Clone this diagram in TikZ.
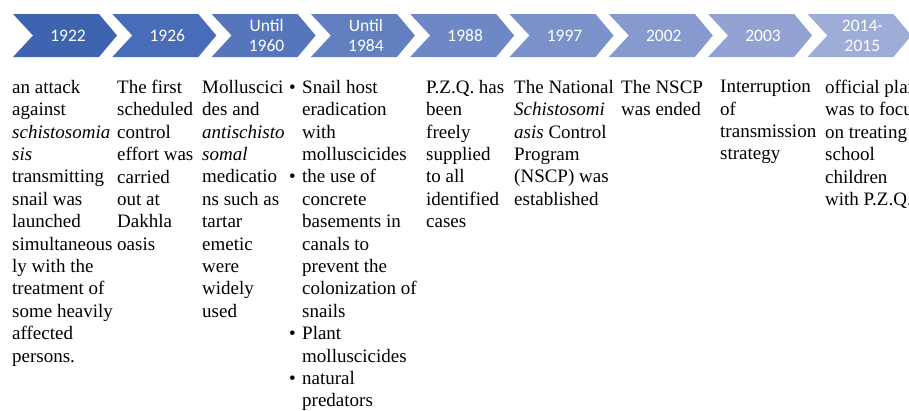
\documentclass[tikz,border=0pt]{standalone}
\usepackage{fontspec}
\setmainfont{Liberation Serif}[ItalicFont={Liberation Serif Italic}, BoldFont={Liberation Serif Bold}]
\newfontfamily\labelfont{Carlito}
\definecolor{chevA}{RGB}{62,100,176}
\definecolor{chevB}{RGB}{72,108,183}
\definecolor{chevC}{RGB}{86,118,188}
\definecolor{chevD}{RGB}{98,127,192}
\definecolor{chevE}{RGB}{110,136,197}
\definecolor{chevF}{RGB}{122,145,202}
\definecolor{chevG}{RGB}{134,154,207}
\definecolor{chevH}{RGB}{146,163,211}
\definecolor{chevI}{RGB}{158,172,216}
\begin{document}
\begin{tikzpicture}[x=1pt, y=-1pt,
    yearlabel/.style={text=white, font=\labelfont\fontsize{17.5}{20}\selectfont, align=center, inner sep=0pt},
    eventtext/.style={anchor=north west, font=\fontsize{19}{22.4}\selectfont, align=left, inner sep=0pt}]
        \useasboundingbox (0,0) rectangle (909,410);
        \clip (0,0) rectangle (909,410);

        % chevrons
        \fill[chevA, shift={(13,0)}] (0,14) -- (86,14) -- (104,35.5) -- (86,57) -- (0,57) -- (20,35.5) -- cycle;
        \fill[chevB, shift={(112.3,0)}] (0,14) -- (86,14) -- (104,35.5) -- (86,57) -- (0,57) -- (20,35.5) -- cycle;
        \fill[chevC, shift={(211.6,0)}] (0,14) -- (86,14) -- (104,35.5) -- (86,57) -- (0,57) -- (20,35.5) -- cycle;
        \fill[chevD, shift={(310.9,0)}] (0,14) -- (86,14) -- (104,35.5) -- (86,57) -- (0,57) -- (20,35.5) -- cycle;
        \fill[chevE, shift={(410.2,0)}] (0,14) -- (86,14) -- (104,35.5) -- (86,57) -- (0,57) -- (20,35.5) -- cycle;
        \fill[chevF, shift={(509.5,0)}] (0,14) -- (86,14) -- (104,35.5) -- (86,57) -- (0,57) -- (20,35.5) -- cycle;
        \fill[chevG, shift={(608.8,0)}] (0,14) -- (86,14) -- (104,35.5) -- (86,57) -- (0,57) -- (20,35.5) -- cycle;
        \fill[chevH, shift={(708.1,0)}] (0,14) -- (86,14) -- (104,35.5) -- (86,57) -- (0,57) -- (20,35.5) -- cycle;
        \fill[chevI, shift={(807.4,0)}] (0,14) -- (86,14) -- (104,35.5) -- (86,57) -- (0,57) -- (20,35.5) -- cycle;

        % year labels
        \node[yearlabel] (y1922) at (68,35.5) {1922};
        \node[yearlabel] (y1926) at (167.3,35.5) {1926};
        \node[yearlabel] (y1960) at (266.6,35.5) {Until\\1960};
        \node[yearlabel] (y1984) at (365.9,35.5) {Until\\1984};
        \node[yearlabel] (y1988) at (465.2,35.5) {1988};
        \node[yearlabel] (y1997) at (564.5,35.5) {1997};
        \node[yearlabel] (y2002) at (663.8,35.5) {2002};
        \node[yearlabel] (y2003) at (763.1,35.5) {2003};
        \node[yearlabel] (y2015) at (862.4,35.5) {2014-\\2015};

        % event texts
        \node[eventtext] (t1922) at (12,80) {an attack\\against\\\textit{schistosomia}\\\textit{sis}\\transmitting\\snail was\\launched\\simultaneous\\ly with the\\treatment of\\some heavily\\affected\\persons.};
        \node[eventtext] (t1926) at (117,80) {The first\\scheduled\\control\\effort was\\carried\\out at\\Dakhla\\oasis};
        \node[eventtext] (t1960) at (202,80) {Molluscici\\des and\\\textit{antischisto}\\\textit{somal}\\medicatio\\ns such as\\tartar\\emetic\\were\\widely\\used};
        \node[eventtext] (t1984) at (289,80) {\makebox[13pt][l]{\textbullet}Snail host\\\hspace*{13pt}eradication\\\hspace*{13pt}with\\\hspace*{13pt}molluscicides\\\makebox[13pt][l]{\textbullet}the use of\\\hspace*{13pt}concrete\\\hspace*{13pt}basements in\\\hspace*{13pt}canals to\\\hspace*{13pt}prevent the\\\hspace*{13pt}colonization of\\\hspace*{13pt}snails\\\makebox[13pt][l]{\textbullet}Plant\\\hspace*{13pt}molluscicides\\\makebox[13pt][l]{\textbullet}natural\\\hspace*{13pt}predators};
        \node[eventtext] (t1988) at (426,80) {P.Z.Q. has\\been\\freely\\supplied\\to all\\identified\\cases};
        \node[eventtext] (t1997) at (514,80) {The National\\\textit{Schistosomi}\\\textit{asis} Control\\Program\\(NSCP) was\\established};
        \node[eventtext] (t2002) at (621,80) {The NSCP\\was ended};
        \node[eventtext] (t2003) at (720,80) {Interruption\\of\\transmission\\strategy};
        \node[eventtext] (t2015) at (825,80) {official plan\\was to focus\\on treating\\school\\children\\with P.Z.Q.};
\end{tikzpicture}
\end{document}
